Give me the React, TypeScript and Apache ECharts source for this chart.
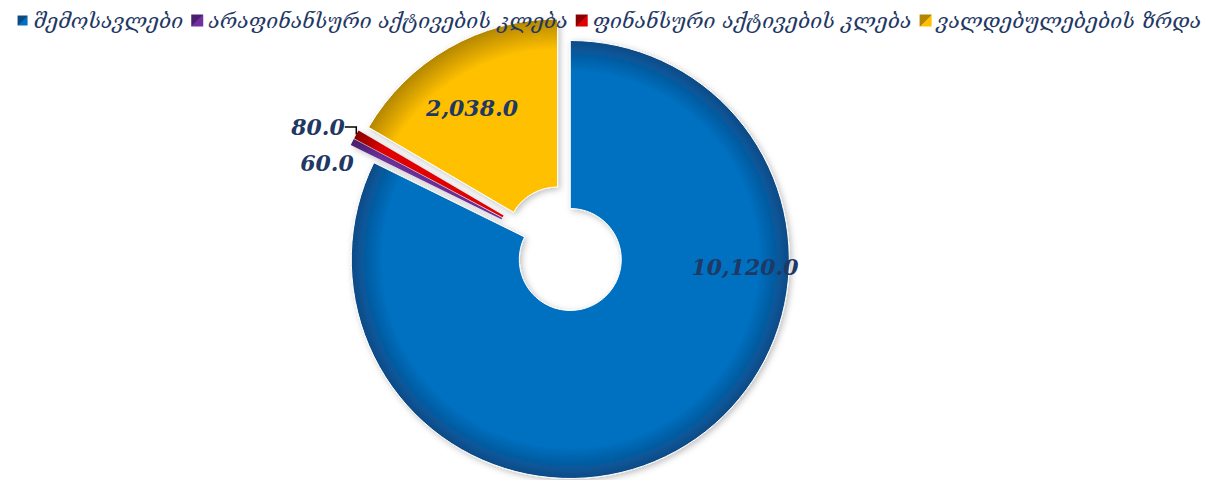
import React, { useEffect, useRef } from "react";
import * as echarts from "echarts";

const categories = [
  "შემოსავლები",
  "არაფინანსური აქტივების კლება",
  "ფინანსური აქტივების კლება",
  "ვალდებულებების ზრდა",
];
const values = [10120, 60, 80, 2038];

const colors = ["#0070C0", "#7030A0", "#E00000", "#FFC000"];
const rimColors = ["#0B4A85", "#4A1F6E", "#8A0000", "#B38600"];
const explode = [10, 20, 20, 15];
const labelX = [745, 327, 318, 472];
const labelY = [267, 163, 127, 108];
const CX = 565;
const CY = 251;
const R_IN = 51;
const R_OUT = 219;

function fmt(v: number) {
  return v.toLocaleString("en-US", { minimumFractionDigits: 1, maximumFractionDigits: 1 });
}

export default function App() {
  const ref = useRef<HTMLDivElement>(null);
  useEffect(() => {
    if (!ref.current) return;
    const chart = echarts.init(ref.current, undefined, { renderer: "svg" });
    const total = values.reduce((a, b) => a + b, 0);
    let cum = 0;
    const centers = values.map((v, i) => {
      const th = ((cum + v / 2) / total) * Math.PI * 2;
      cum += v;
      return [CX + explode[i] * Math.sin(th), CY - explode[i] * Math.cos(th)];
    });
    const series = values.map((_, i) => ({
      type: "pie",
      center: centers[i],
      radius: [R_IN, R_OUT],
      startAngle: 90,
      clockwise: true,
      avoidLabelOverlap: false,
      silent: true,
      emphasis: { disabled: true },
      z: i === 0 ? 1 : 2,
      labelLayout: {
        x: labelX[i],
        y: labelY[i],
        align: "center",
        verticalAlign: "middle",
      },
      data: values.map((v, j) => {
        const vis = j === i;
        return {
          name: categories[j],
          value: v,
          itemStyle: vis
            ? {
                color: {
                  type: "radial",
                  x: centers[i][0],
                  y: centers[i][1],
                  r: R_OUT,
                  global: true,
                  colorStops: [
                    { offset: 0, color: colors[i] },
                    { offset: 0.86, color: colors[i] },
                    { offset: 1, color: rimColors[i] },
                  ],
                },
                borderColor: "#ffffff",
                borderWidth: j === 0 || j === 3 ? 1 : 0,
                shadowBlur: 6,
                shadowColor: "rgba(0,0,0,0.25)",
                shadowOffsetX: 2,
                shadowOffsetY: 2,
              }
            : { color: "rgba(0,0,0,0)", borderWidth: 0 },
          label: {
            show: vis,
            position: j === 1 || j === 2 ? "outside" : "inside",
            formatter: fmt(v),
            fontFamily: "DejaVu Serif",
            fontWeight: "bold",
            fontStyle: "italic",
            fontSize: 22,
            color: "#1F3864",
          },
          labelLine: {
            show: vis && j === 2,
            length: 10,
            length2: 14,
            lineStyle: { color: "#000000", width: 1.5 },
          },
        };
      }),
    }));
    chart.setOption({
      animation: false,
      legend: {
        top: 5,
        left: "center",
        icon: "rect",
        itemWidth: 12,
        itemHeight: 12,
        itemGap: 8,
        selectedMode: false,
        textStyle: {
          fontFamily: "DejaVu Serif",
          fontStyle: "italic",
          fontSize: 21,
          color: "#1F3864",
        },
        data: categories.map((c, i) => ({
          name: c,
          itemStyle: {
            color: {
              type: "linear",
              x: 0,
              y: 0,
              x2: 1,
              y2: 1,
              colorStops: [
                { offset: 0, color: rimColors[i] },
                { offset: 0.5, color: rimColors[i] },
                { offset: 0.5, color: colors[i] },
                { offset: 1, color: colors[i] },
              ],
            },
          },
        })),
      },
      series,
    });
    return () => chart.dispose();
  }, []);
  return (
    <div
      ref={ref}
      style={{ position: "fixed", left: 0, top: 0, width: 1217, height: 480, background: "#fff" }}
    />
  );
}
